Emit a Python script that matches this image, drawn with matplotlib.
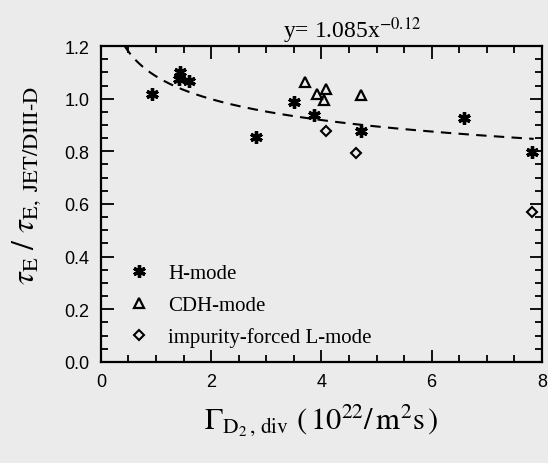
import numpy as np
import matplotlib
matplotlib.use("Agg")
import matplotlib.pyplot as plt
from matplotlib.ticker import MultipleLocator

plt.rcParams['mathtext.fontset'] = 'stix'

# H-mode
h_x = [0.93, 1.44, 1.41, 1.59, 2.82, 3.51, 3.86, 4.71, 6.58, 7.82]
h_y = [1.019, 1.10, 1.074, 1.068, 0.855, 0.987, 0.937, 0.877, 0.925, 0.797]
# CDH-mode
cdh_x = [3.70, 3.92, 4.08, 4.05, 4.71]
cdh_y = [1.065, 1.017, 1.036, 0.994, 1.013]
# impurity-forced L-mode
l_x = [4.08, 4.63, 7.82]
l_y = [0.877, 0.794, 0.568]

# fit y = a * x^b
fit_a = 1.085
fit_b = -0.12
fit_xmin, fit_xmax = 0.43, 7.85

bg = '#ebebeb'
fig = plt.figure(figsize=(5.48, 4.64), dpi=100, facecolor=bg)
ax = fig.add_axes([0.184, 0.2177, 0.805, 0.681], facecolor=bg)

xf = np.linspace(fit_xmin, fit_xmax, 300)
ax.plot(xf, fit_a * xf**fit_b, 'k--', lw=1.5, dashes=(5, 3.5))

ax.plot(h_x, h_y, ls='none', marker=(6, 2, 0), ms=9, mew=2.4, color='k', label='H-mode')
ax.plot(cdh_x, cdh_y, ls='none', marker='^', ms=7, mew=1.6, mfc='none', mec='k', label='CDH-mode')
ax.plot(l_x, l_y, ls='none', marker='D', ms=5, mew=1.5, mfc='none', mec='k', label='impurity-forced L-mode')

ax.set_xlim(0, 8)
ax.set_ylim(0, 1.2)
ax.xaxis.set_major_locator(MultipleLocator(2))
ax.xaxis.set_minor_locator(MultipleLocator(0.5))
ax.yaxis.set_major_locator(MultipleLocator(0.2))
ax.yaxis.set_minor_locator(MultipleLocator(0.05))
ax.yaxis.set_major_formatter(matplotlib.ticker.FormatStrFormatter('%.1f'))
ax.tick_params(which='both', direction='in', top=True, right=True, width=1.3)
ax.tick_params(which='major', length=9, labelsize=13, pad=8)
ax.tick_params(which='minor', length=5)
for lab in ax.get_xticklabels() + ax.get_yticklabels():
    lab.set_family('Liberation Sans')
for s in ax.spines.values():
    s.set_linewidth(1.6)

ax.set_xlabel(r'$\Gamma_{\mathrm{D_2\,,\,div}}\ (\,10^{22}/\,\mathrm{m^2 s}\,)$', fontsize=22, labelpad=8)
ax.set_ylabel(r'$\tau_{\mathrm{E}}\ /\ \tau_{\mathrm{E,\ JET/DIII}‐\mathrm{D}}$', fontsize=23)
ax.yaxis.set_label_coords(-0.13, 0.56)

fig.text(283 / 548, 0.918, r'y= 1.085x$^{-0.12}$', fontsize=17, family='Liberation Serif')

leg = ax.legend(loc='lower left', frameon=False, prop={'family': 'Liberation Serif', 'size': 15},
                handletextpad=0.9, borderaxespad=0.3, labelspacing=0.6, handlelength=1.0,
                bbox_to_anchor=(0.03, 0.0))

fig.savefig('out.png', dpi=100, facecolor=bg)
